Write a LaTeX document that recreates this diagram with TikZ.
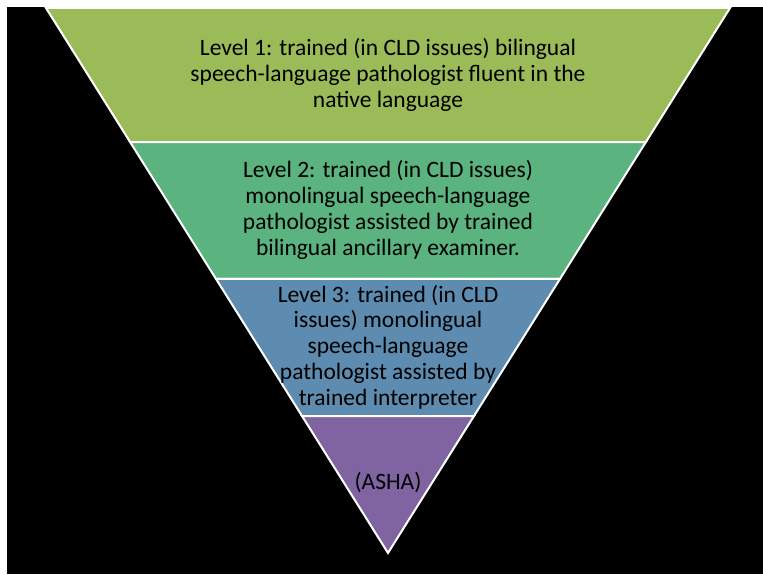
\documentclass[tikz,border=0pt]{standalone}
\usepackage{fontspec}
\setmainfont{Carlito}
\usepackage{tikz}
\usetikzlibrary{calc}
\definecolor{lvlone}{HTML}{9BBB59}
\definecolor{lvltwo}{HTML}{5BB37F}
\definecolor{lvlthree}{HTML}{5E8CB0}
\definecolor{lvlfour}{HTML}{8064A2}

\begin{document}
\begin{tikzpicture}[x=1pt,y=1pt,band/.style={draw=white,line width=2pt,line join=miter},lbl/.style={align=center,font=\fontsize{23.5}{25.8}\selectfont,text=black,inner sep=0pt}]
% page and black slide
\fill[white] (0,0) rectangle (763,574);
\fill[black] (7,0) rectangle (763,567);
% corners of the inverted triangle
\coordinate (tl) at (46,566);
\coordinate (tr) at (730,566);
\coordinate (tip) at (388,21);
\coordinate (l1) at ($(tl)!0.246!(tip)$);
\coordinate (r1) at ($(tr)!0.246!(tip)$);
\coordinate (l2) at ($(tl)!0.497!(tip)$);
\coordinate (r2) at ($(tr)!0.497!(tip)$);
\coordinate (l3) at ($(tl)!0.749!(tip)$);
\coordinate (r3) at ($(tr)!0.749!(tip)$);
% the four bands
\filldraw[band,fill=lvlone] (tl) -- (tr) -- (r1) -- (l1) -- cycle;
\filldraw[band,fill=lvltwo] (l1) -- (r1) -- (r2) -- (l2) -- cycle;
\filldraw[band,fill=lvlthree] (l2) -- (r2) -- (r3) -- (l3) -- cycle;
\filldraw[band,fill=lvlfour] (l3) -- (r3) -- (tip) -- cycle;
% labels
\node[lbl] (one) at (388,499) {Level 1: trained (in CLD issues) bilingual\\speech-language pathologist fluent in the\\native language};
\node[lbl] (two) at (388,364) {Level 2: trained (in CLD issues)\\monolingual speech-language\\pathologist assisted by trained\\bilingual ancillary examiner.};
\node[lbl] (three) at (388,227) {Level 3: trained (in CLD\\issues) monolingual\\speech-language\\pathologist assisted by\\trained interpreter};
\node[lbl] (asha) at (388,91) {(ASHA)};
\end{tikzpicture}
\end{document}
